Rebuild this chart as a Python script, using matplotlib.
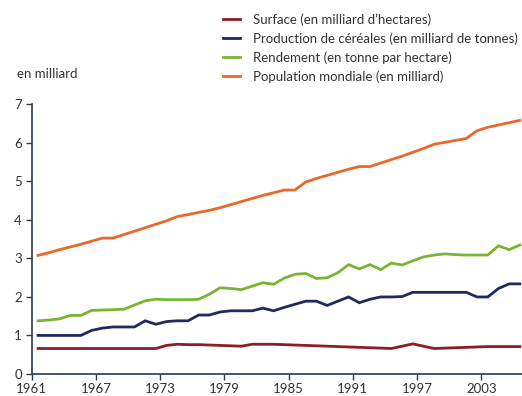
import numpy as np
import matplotlib
matplotlib.use("Agg")
from matplotlib import pyplot as plt

years = np.arange(1961, 2007)

surface = [0.65, 0.65, 0.65, 0.65, 0.65, 0.65, 0.65, 0.65, 0.65, 0.65,
           0.65, 0.65, 0.73, 0.76, 0.75, 0.75, 0.74, 0.73, 0.72, 0.71,
           0.76, 0.76, 0.76, 0.75, 0.74, 0.73, 0.72, 0.71, 0.70, 0.69,
           0.68, 0.67, 0.66, 0.65, 0.71, 0.77, 0.71, 0.65, 0.66, 0.67,
           0.68, 0.69, 0.70, 0.70, 0.70, 0.70]

production = [0.99, 0.99, 0.99, 0.99, 0.99, 1.12, 1.18, 1.21, 1.21, 1.21,
              1.37, 1.28, 1.35, 1.37, 1.37, 1.52, 1.52, 1.60, 1.63, 1.63,
              1.63, 1.70, 1.63, 1.72, 1.80, 1.88, 1.88, 1.77, 1.88, 1.99,
              1.84, 1.93, 1.99, 1.99, 2.00, 2.11, 2.11, 2.11, 2.11, 2.11,
              2.11, 1.99, 1.99, 2.21, 2.33, 2.33]

rendement = [1.37, 1.39, 1.42, 1.51, 1.51, 1.64, 1.65, 1.66, 1.67, 1.78,
             1.89, 1.93, 1.92, 1.92, 1.92, 1.93, 2.06, 2.23, 2.21, 2.18,
             2.27, 2.36, 2.32, 2.48, 2.58, 2.60, 2.47, 2.49, 2.62, 2.83,
             2.72, 2.83, 2.70, 2.87, 2.82, 2.93, 3.03, 3.08, 3.11, 3.09,
             3.08, 3.08, 3.08, 3.32, 3.22, 3.34]

population = [3.07, 3.14, 3.22, 3.29, 3.36, 3.44, 3.52, 3.52, 3.61, 3.70,
              3.79, 3.88, 3.97, 4.08, 4.13, 4.19, 4.24, 4.31, 4.39, 4.47,
              4.55, 4.63, 4.70, 4.77, 4.77, 4.98, 5.07, 5.15, 5.23, 5.31,
              5.38, 5.38, 5.47, 5.56, 5.65, 5.75, 5.85, 5.96, 6.01, 6.06,
              6.11, 6.31, 6.40, 6.46, 6.52, 6.58]

labels = ["Surface (en milliard d\u2019hectares)",
          "Production de c\u00e9r\u00e9ales (en milliard de tonnes)",
          "Rendement (en tonne par hectare)",
          "Population mondiale (en milliard)"]
colors = ["#8c1c26", "#1f2a5e", "#7ab433", "#e8692a"]
tick_years = [1961, 1967, 1973, 1979, 1985, 1991, 1997, 2003]

plt.rcParams['font.family'] = ['Lato', 'DejaVu Sans']
axis_col = "#2e3a44"
text_col = "#333333"

fig = plt.figure(figsize=(5.22, 3.96), dpi=100)
ax = fig.add_axes([0.0607, 0.0568, 0.9393, 0.680])

for serie, lab, col in zip([surface, production, rendement, population], labels, colors):
    ax.plot(years, serie, color=col, lw=2.0, label=lab, solid_joinstyle="miter")

ax.set_ylim(0, 7)
ax.set_xlim(1960.4, 2006.2)
ax.set_yticks(range(0, 8))
ax.set_xticks([t - 0.6 for t in tick_years])
ax.set_xticklabels([str(t) for t in tick_years])

for s in ["top", "right"]:
    ax.spines[s].set_visible(False)
for s in ["left", "bottom"]:
    ax.spines[s].set_color(axis_col)
    ax.spines[s].set_linewidth(1.2)
ax.tick_params(axis="both", direction="out", length=4, width=1.0,
               color=axis_col, labelcolor=text_col, labelsize=9.5, pad=3)

fig.text(17 / 522, 1 - 74 / 396, "en milliard", fontsize=9.5,
         color=text_col, va="center", ha="left")

fig.legend(loc="upper left", bbox_to_anchor=(223 / 522, 1 - 13 / 396),
           frameon=False, fontsize=9.5, handlelength=1.3, handletextpad=1.0,
           labelspacing=0.5, borderpad=0, borderaxespad=0,
           labelcolor=text_col)

fig.savefig("out.png", dpi=100)
